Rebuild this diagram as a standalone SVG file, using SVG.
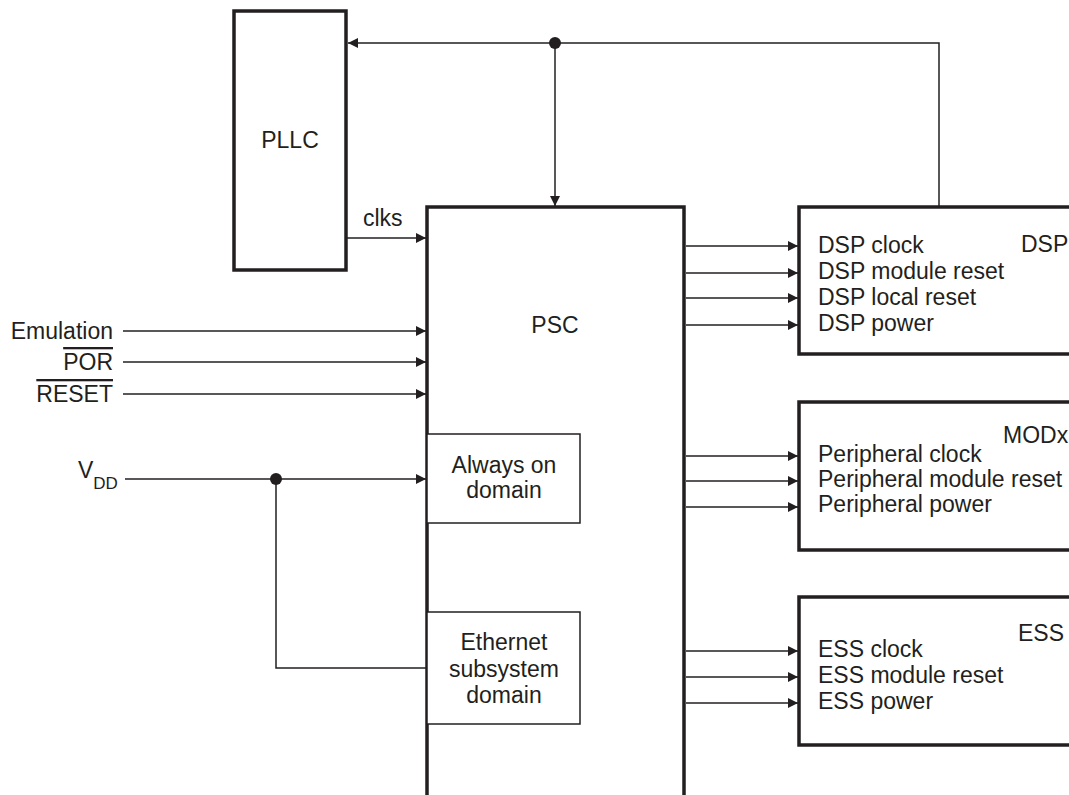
<svg xmlns="http://www.w3.org/2000/svg" width="1069" height="795" viewBox="0 0 1069 795">
<style>
text{font-family:"Liberation Sans",Arial,sans-serif;font-size:23px;fill:#231f20}
.mid{text-anchor:middle}
.end{text-anchor:end}
.box{fill:#fff;stroke:#231f20;stroke-width:3.5}
.dom{fill:#fff;stroke:#231f20;stroke-width:1.5}
.wire{fill:none;stroke:#231f20;stroke-width:1.5}
.arr{marker-end:url(#ah)}
.dot{fill:#231f20}
</style>
<defs>
<marker id="ah" markerUnits="userSpaceOnUse" markerWidth="12" markerHeight="11" refX="10" refY="5" orient="auto">
<path d="M0,0 L10,5 L0,10 Z" fill="#231f20"/>
</marker>
</defs>
<g id="pllc">
<rect class="box" x="234" y="11" width="112" height="259" stroke-width="3"/>
<text class="mid" x="290" y="148">PLLC</text>
</g>
<g id="psc">
<path class="box" d="M427,800 V207 H684 V800"/>
<text class="mid" x="555" y="333">PSC</text>
</g>
<g id="always-on">
<rect class="dom" x="427" y="434" width="153" height="89"/>
<text class="mid" x="504" y="473">Always on</text>
<text class="mid" x="504" y="498">domain</text>
</g>
<g id="ethernet">
<rect class="dom" x="427" y="612" width="153" height="112"/>
<text class="mid" x="504" y="650">Ethernet</text>
<text class="mid" x="504" y="677">subsystem</text>
<text class="mid" x="504" y="703">domain</text>
</g>
<g id="dsp">
<rect class="box" x="799" y="207" width="320" height="147"/>
<text x="1021" y="252">DSP</text>
<text x="818" y="253">DSP clock</text>
<text x="818" y="279">DSP module reset</text>
<text x="818" y="305">DSP local reset</text>
<text x="818" y="331">DSP power</text>
</g>
<g id="modx">
<rect class="box" x="799" y="402" width="320" height="148"/>
<text x="1003" y="443">MODx</text>
<text x="818" y="462">Peripheral clock</text>
<text x="818" y="487">Peripheral module reset</text>
<text x="818" y="512">Peripheral power</text>
</g>
<g id="ess">
<rect class="box" x="799" y="597" width="320" height="148"/>
<text x="1018" y="641">ESS</text>
<text x="818" y="657">ESS clock</text>
<text x="818" y="683">ESS module reset</text>
<text x="818" y="709">ESS power</text>
</g>
<g id="inputs">
<text class="end" x="113" y="339">Emulation</text>
<text class="end" x="113" y="370" text-decoration="overline">POR</text>
<text class="end" x="113" y="402" text-decoration="overline">RESET</text>
<text x="78" y="478">V<tspan font-size="17" dy="11">DD</tspan></text>
<text x="363" y="226">clks</text>
</g>
<g id="connectors">
<path class="wire arr" d="M939,207 V43 H348"/>
<path class="wire arr" d="M555,43 V206"/>
<circle class="dot" cx="555" cy="43" r="6"/>
<path class="wire arr" d="M346,238 H426"/>
<path class="wire arr" d="M123,331 H426"/>
<path class="wire arr" d="M123,362 H426"/>
<path class="wire arr" d="M123,394 H426"/>
<path class="wire arr" d="M125,479 H426"/>
<path class="wire" d="M276,479 V668 H427"/>
<circle class="dot" cx="276" cy="479" r="6"/>
<path class="wire arr" d="M686,246 H798"/>
<path class="wire arr" d="M686,273 H798"/>
<path class="wire arr" d="M686,298 H798"/>
<path class="wire arr" d="M686,325 H798"/>
<path class="wire arr" d="M686,456 H798"/>
<path class="wire arr" d="M686,481 H798"/>
<path class="wire arr" d="M686,507 H798"/>
<path class="wire arr" d="M686,651 H798"/>
<path class="wire arr" d="M686,677 H798"/>
<path class="wire arr" d="M686,703 H798"/>
</g>
</svg>
